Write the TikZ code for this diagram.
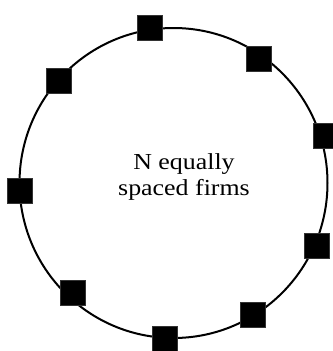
\documentclass[tikz,border=0pt]{standalone}
\usepackage{fontspec}
\setmainfont{Liberation Serif}
\begin{document}
\begin{tikzpicture}[x=1bp,y=-1bp,
  firm/.style={draw=black!80,line width=0.8bp,fill=black,minimum size=25bp,inner sep=0pt},
  ring/.style={line width=2bp}]
\useasboundingbox (0,0) rectangle (333,351);
\draw[ring] (173.5,183) ellipse[x radius=154,y radius=155];
\node[firm] (f1) at (149.5,27.5) {};
\node[firm] (f2) at (259,59) {};
\node[firm] (f3) at (326,136) {};
\node[firm] (f4) at (317,246) {};
\node[firm] (f5) at (253,315) {};
\node[firm] (f6) at (165,339) {};
\node[firm] (f7) at (73,293) {};
\node[firm] (f8) at (20,191) {};
\node[firm] (f9) at (59,81) {};
\node[align=center,font=\fontsize{23}{27}\selectfont,inner sep=0pt] (t) at (184,177)
  {\scalebox{1.13}[1]{N equally}\\\scalebox{1.13}[1]{spaced firms}};
\end{tikzpicture}
\end{document}
